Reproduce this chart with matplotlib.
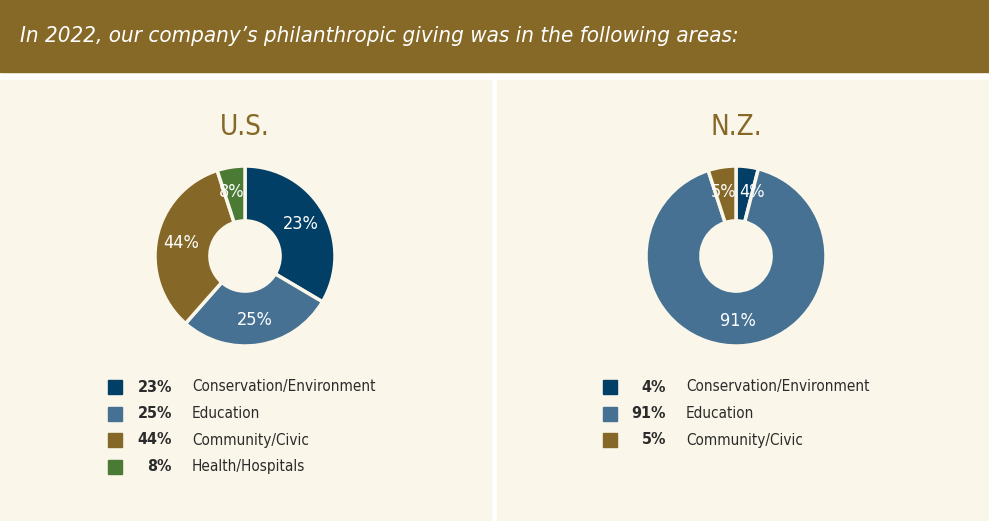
import matplotlib
matplotlib.use("Agg")
import matplotlib.pyplot as plt
from matplotlib.patches import Rectangle
import numpy as np

# data
us_categories = ["Conservation/Environment", "Education", "Community/Civic", "Health/Hospitals"]
us_labels = [23, 25, 44, 8]
us_wedges = [33.5, 28, 33.5, 5]          # slice sizes as drawn in the original
nz_categories = ["Conservation/Environment", "Education", "Community/Civic"]
nz_labels = [4, 91, 5]
nz_wedges = [4, 91, 5]

colors = {"Conservation/Environment": "#013f66",
          "Education": "#467193",
          "Community/Civic": "#856828",
          "Health/Hospitals": "#4a7a34"}

title_text = "In 2022, our company\u2019s philanthropic giving was in the following areas:"

plt.rcParams["font.family"] = ["DejaVu Sans"]
plt.rcParams["font.stretch"] = "condensed"

W, H = 989, 521
fig = plt.figure(figsize=(W / 100, H / 100), dpi=100)
fig.patch.set_facecolor("white")


def fx(x):
    return x / W


def fy(y):
    return 1 - y / H


# header band and the two cream panels
fig.patches.append(Rectangle((0, fy(72)), 1, 72 / H, transform=fig.transFigure,
                             color="#866827", zorder=-2))
fig.patches.append(Rectangle((0, 0), fx(491), fy(80), transform=fig.transFigure,
                             color="#faf6e9", zorder=-2))
fig.patches.append(Rectangle((fx(497), 0), 1 - fx(497), fy(80), transform=fig.transFigure,
                             color="#faf6e9", zorder=-2))

fig.text(fx(20), fy(36), title_text, color="white", fontsize=16, style="italic",
         stretch="condensed", va="center", ha="left")


def donut(cx, cy, name, wedges, labels, cats, legend_x, square_x):
    r = 90
    size = 2 * 1.25 * r
    ax = fig.add_axes([fx(cx - size / 2), fy(cy + size / 2), size / W, size / H])
    ax.set_zorder(2)
    ax.set_facecolor("none")
    cols = [colors[c] for c in cats]
    patches, _ = ax.pie(wedges, colors=cols, startangle=90, counterclock=False,
                        wedgeprops=dict(width=0.61, edgecolor="#faf6e9", linewidth=2.5))
    ax.set_xlim(-1.25, 1.25)
    ax.set_ylim(-1.25, 1.25)
    ax.set_aspect("equal")
    ax.axis("off")
    for p, lab in zip(patches, labels):
        span = abs(p.theta2 - p.theta1)
        mid = np.deg2rad((p.theta1 + p.theta2) / 2)
        x, y = 0.72 * np.cos(mid), 0.72 * np.sin(mid)
        ha = "center"
        if span < 30:
            # thin slices at the top: put the label beside the 12 o'clock line
            ha = "left" if x > 0 else "right"
            x = 0.04 if x > 0 else -0.0
        ax.text(x, y, f"{lab}%", color="white", fontsize=13, ha=ha, va="center",
                stretch="condensed")

    fig.text(fx(cx), fy(127), name, color="#866827", fontsize=20,
             ha="center", va="center", stretch="condensed")

    # legend
    for i, (cat, lab) in enumerate(zip(cats, labels)):
        y = 387 + i * 26.5
        fig.patches.append(Rectangle((fx(square_x), fy(y + 7)), 14 / W, 14 / H,
                                     transform=fig.transFigure, color=colors[cat]))
        fig.text(fx(legend_x), fy(y), f"{lab}%", color="#2b2b2b", fontsize=11.5,
                 fontweight="bold", ha="right", va="center", stretch="condensed")
        fig.text(fx(legend_x + 20), fy(y), cat, color="#2b2b2b", fontsize=11,
                 ha="left", va="center", stretch="condensed")


donut(245, 256, "U.S.", us_wedges, us_labels, us_categories, 172, 108)
donut(736, 256, "N.Z.", nz_wedges, nz_labels, nz_categories, 666, 603)

fig.savefig("out.png", dpi=100, facecolor=fig.get_facecolor())
